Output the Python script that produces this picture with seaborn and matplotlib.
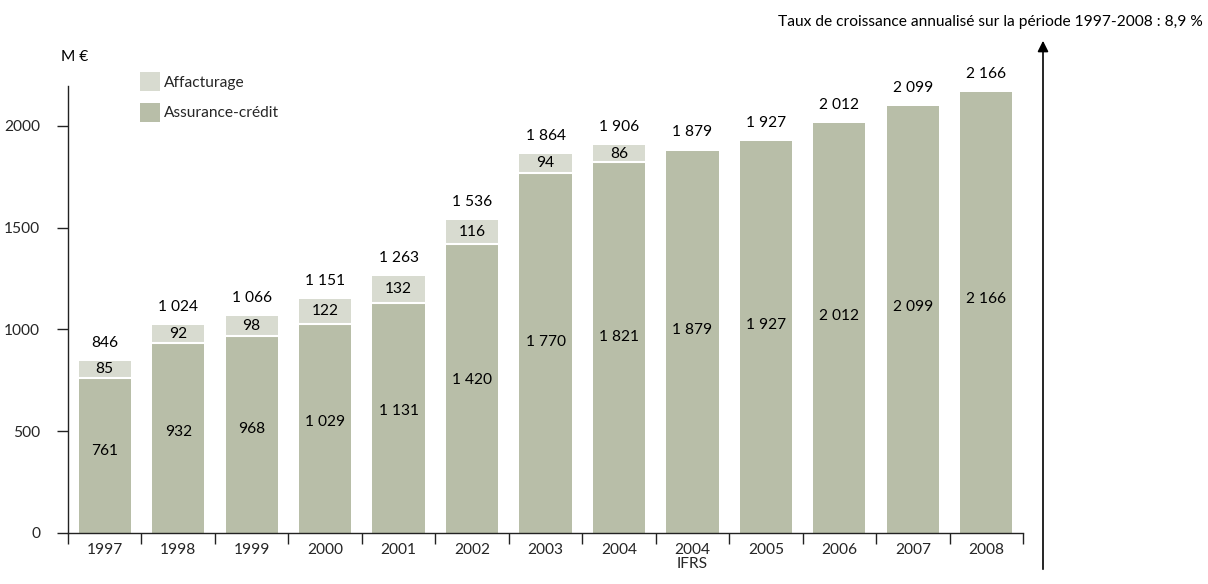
import matplotlib
matplotlib.use("Agg")
import matplotlib.pyplot as plt
from matplotlib.patches import Patch, FancyArrowPatch
import seaborn as sns
import pandas as pd

# Chiffre d'affaires (M€) by year
years = ["1997", "1998", "1999", "2000", "2001", "2002", "2003", "2004",
         "2004\nIFRS", "2005", "2006", "2007", "2008"]
assurance_credit = [761, 932, 968, 1029, 1131, 1420, 1770, 1821,
                    1879, 1927, 2012, 2099, 2166]
affacturage = [85, 92, 98, 122, 132, 116, 94, 86, 0, 0, 0, 0, 0]
totals = [846, 1024, 1066, 1151, 1263, 1536, 1864, 1906,
          1879, 1927, 2012, 2099, 2166]
y_ticks = [0, 500, 1000, 1500, 2000]

c_assur = "#b8bea8"
c_affac = "#d8dbd0"

sns.set_theme(style="white")
plt.rcParams["font.family"] = ["Lato", "DejaVu Sans"]

df = pd.DataFrame({"annee": years, "assurance": assurance_credit,
                   "affacturage": affacturage, "total": totals})

fig = plt.figure(figsize=(12.08, 5.84), dpi=100)
ax = fig.add_axes([68 / 1208, 51 / 584, (1023 - 68) / 1208, (533 - 86) / 584])

sns.barplot(data=df, x="annee", y="assurance", color=c_assur, saturation=1,
            width=0.71, ax=ax, linewidth=0)
sns.barplot(data=df, x="annee", y="affacturage", color=c_affac, saturation=1,
            width=0.71, ax=ax, bottom=df["assurance"], linewidth=0)

def fmt(v):
    return f"{v:,}".replace(",", " ")

fs = 11.2
for i, (a, f, t) in enumerate(zip(assurance_credit, affacturage, totals)):
    # white separator between the two segments
    if f > 0:
        ax.plot([i - 0.355, i + 0.355], [a, a], color="white", lw=1.5,
                solid_capstyle="butt", zorder=3)
        ax.text(i, a + f / 2, fmt(f), ha="center", va="center", fontsize=fs,
                color="black", zorder=4)
    ax.text(i, a * 0.53, fmt(a), ha="center", va="center", fontsize=fs,
            color="black", zorder=4)
    ax.annotate(fmt(t), (i, t), xytext=(0, 13), textcoords="offset points",
                ha="center", va="center", fontsize=fs, color="black")

ax.set_ylim(0, 2196)
ax.set_xlim(-0.5, len(years) - 0.5)
ax.set_yticks(y_ticks)
ax.set_yticklabels([str(v) for v in y_ticks], fontsize=fs)
ax.set_xticks(range(len(years)))
ax.set_xticklabels(years, fontsize=fs, linespacing=1.0)
ax.set_xticks([i - 0.5 for i in range(len(years) + 1)], minor=True)
ax.tick_params(axis="x", which="major", length=0, pad=7)
ax.tick_params(axis="x", which="minor", length=8, width=1, color="#222222",
               direction="out", bottom=True)
ax.tick_params(axis="y", which="major", length=8, width=1, color="#222222",
               direction="out", left=True, pad=12)
ax.set_xlabel("")
ax.set_ylabel("")
for side in ["top", "right"]:
    ax.spines[side].set_visible(False)
for side in ["left", "bottom"]:
    ax.spines[side].set_color("#222222")
    ax.spines[side].set_linewidth(1)

handles = [Patch(facecolor=c_affac, edgecolor="none", label="Affacturage"),
           Patch(facecolor=c_assur, edgecolor="none", label="Assurance-crédit")]
ax.legend(handles=handles, loc="upper left",
          bbox_to_anchor=((140 - 68) / 955, (533 - 72) / 447),
          frameon=False, fontsize=fs, handlelength=1.3, handleheight=1.5,
          handletextpad=0.25, labelspacing=0.75, borderaxespad=0, borderpad=0)

fig.text(75 / 1208, 1 - 57 / 584, "M €", ha="center", va="center",
         fontsize=fs, color="black")
fig.text(1203 / 1208, 1 - 22 / 584,
         "Taux de croissance annualisé sur la période 1997-2008 : 8,9 %",
         ha="right", va="center", fontsize=fs, color="black")

arrow = FancyArrowPatch((1043 / 1208, 1 - 572 / 584), (1043 / 1208, 1 - 38 / 584),
                        transform=fig.transFigure, arrowstyle="-|>",
                        mutation_scale=16, color="black", lw=1.2)
fig.add_artist(arrow)

fig.savefig("out.png", dpi=100, facecolor="white")
